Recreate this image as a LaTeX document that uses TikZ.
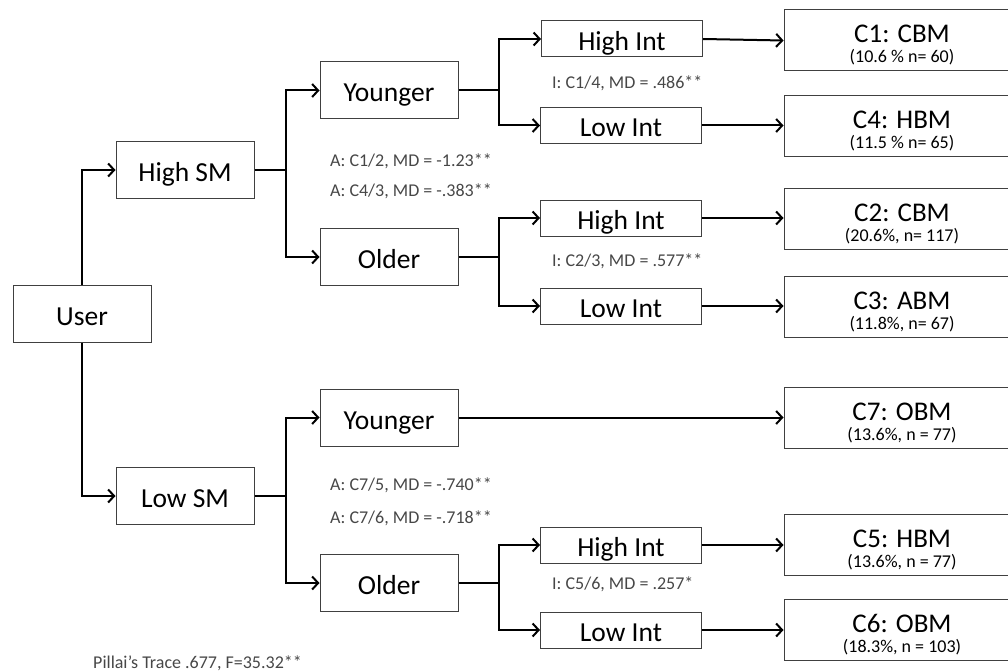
\documentclass[tikz,border=0pt]{standalone}
\usepackage{fontspec}
\setmainfont{Carlito}
\usetikzlibrary{arrows.meta}
\begin{document}
\begin{tikzpicture}[x=1pt,y=-1pt,
  box/.style={draw=black!75, line width=1pt, fill=white, inner sep=0pt,
    text height=23pt, text depth=0pt, font=\fontsize{27.5}{29}\selectfont,
    minimum width=138pt, minimum height=57pt},
  intbox/.style={box, minimum width=161pt, minimum height=36pt},
  cbox/.style={draw=black!75, line width=1pt, inner sep=0pt,
    minimum width=236pt, minimum height=61pt},
  ctitle/.style={anchor=base, inner sep=0pt, font=\fontsize{27}{29}\selectfont},
  csub/.style={anchor=base, inner sep=0pt, font=\fontsize{18}{20}\selectfont},
  note/.style={anchor=base west, inner sep=0pt, text=black!72, font=\fontsize{18}{20}\selectfont},
  conn/.style={line width=2pt, black},
  arr/.style={conn, -{Straight Barb[length=6pt,width=13pt]}}
]
\useasboundingbox (0,0) rectangle (1008,671);

% level 1
\node[box] (user) at (82,313.5) {User};
\node[box] (hsm) at (185,170) {High SM};
\node[box] (lsm) at (185,496) {Low SM};

% level 2
\node[box] (y1) at (389,90.5) {Younger};
\node[box] (o1) at (389,257) {Older};
\node[box] (y2) at (389,417.5) {Younger};
\node[box] (o2) at (389,583) {Older};

% level 3
\node[intbox] (hi1) at (622,39) {High Int};
\node[intbox] (li1) at (621,125.5) {Low Int};
\node[intbox] (hi2) at (621,218) {High Int};
\node[intbox] (li2) at (621,306) {Low Int};
\node[intbox] (hi3) at (621,545) {High Int};
\node[intbox] (li3) at (621,630) {Low Int};

% clusters
\node[cbox] (c1) at (902,40.5) {};
\node[cbox] (c4) at (902,126) {};
\node[cbox] (c2) at (902,218.5) {};
\node[cbox] (c3) at (902,307) {};
\node[cbox] (c7) at (902,417.5) {};
\node[cbox] (c5) at (902,545) {};
\node[cbox] (c6) at (902,630) {};

\node[ctitle] (c1t) at (902,43) {C1: CBM};
\node[csub] (c1s) at (902,63) {(10.6 \% n= 60)};
\node[ctitle] (c4t) at (902,128.5) {C4: HBM};
\node[csub] (c4s) at (902,148.5) {(11.5 \% n= 65)};
\node[ctitle] (c2t) at (902,221) {C2: CBM};
\node[csub] (c2s) at (902,241) {(20.6\%, n= 117)};
\node[ctitle] (c3t) at (902,309.5) {C3: ABM};
\node[csub] (c3s) at (902,329.5) {(11.8\%, n= 67)};
\node[ctitle] (c7t) at (902,420) {C7: OBM};
\node[csub] (c7s) at (902,440) {(13.6\%, n = 77)};
\node[ctitle] (c5t) at (902,547.5) {C5: HBM};
\node[csub] (c5s) at (902,567.5) {(13.6\%, n = 77)};
\node[ctitle] (c6t) at (902,632.5) {C6: OBM};
\node[csub] (c6s) at (902,652.5) {(18.3\%, n = 103)};

% junction coordinates
\coordinate (j1) at (286,170);
\coordinate (j2) at (286,496);
\coordinate (k1) at (499,90.5);
\coordinate (k2) at (499,257);
\coordinate (k3) at (499,583);

% connectors
\draw[arr] (user.north) |- (hsm.west);
\draw[arr] (user.south) |- (lsm.west);

\draw[conn] (hsm.east) -- (j1);
\draw[arr] (j1) |- (y1.west);
\draw[arr] (j1) |- (o1.west);
\draw[conn] (lsm.east) -- (j2);
\draw[arr] (j2) |- (y2.west);
\draw[arr] (j2) |- (o2.west);

\draw[conn] (y1.east) -- (k1);
\draw[arr] (k1) |- (hi1.west);
\draw[arr] (k1) |- (li1.west);
\draw[conn] (o1.east) -- (k2);
\draw[arr] (k2) |- (hi2.west);
\draw[arr] (k2) |- (li2.west);
\draw[conn] (o2.east) -- (k3);
\draw[arr] (k3) |- (hi3.west);
\draw[arr] (k3) |- (li3.west);

\draw[arr] (y2.east) -- (y2.east -| c7.west);
\draw[arr] (hi1.east) -- (c1.west);
\draw[arr] (li1.east) -- (li1.east -| c4.west);
\draw[arr] (hi2.east) -- (hi2.east -| c2.west);
\draw[arr] (li2.east) -- (li2.east -| c3.west);
\draw[arr] (hi3.east) -- (hi3.east -| c5.west);
\draw[arr] (li3.east) -- (li3.east -| c6.west);

% notes
\node[note] (n1) at (330,167) {A: C1/2, MD = -1.23**};
\node[note] (n2) at (330,196.5) {A: C4/3, MD = -.383**};
\node[note] (n3) at (552,89) {I: C1/4, MD = .486**};
\node[note] (n4) at (552,266.5) {I: C2/3, MD = .577**};
\node[note] (n5) at (330,490) {A: C7/5, MD = -.740**};
\node[note] (n6) at (330,523) {A: C7/6, MD = -.718**};
\node[note] (n7) at (552,589) {I: C5/6, MD = .257*};
\node[note] (n8) at (93,668) {Pillai’s Trace .677, F=35.32**};
\end{tikzpicture}
\end{document}
